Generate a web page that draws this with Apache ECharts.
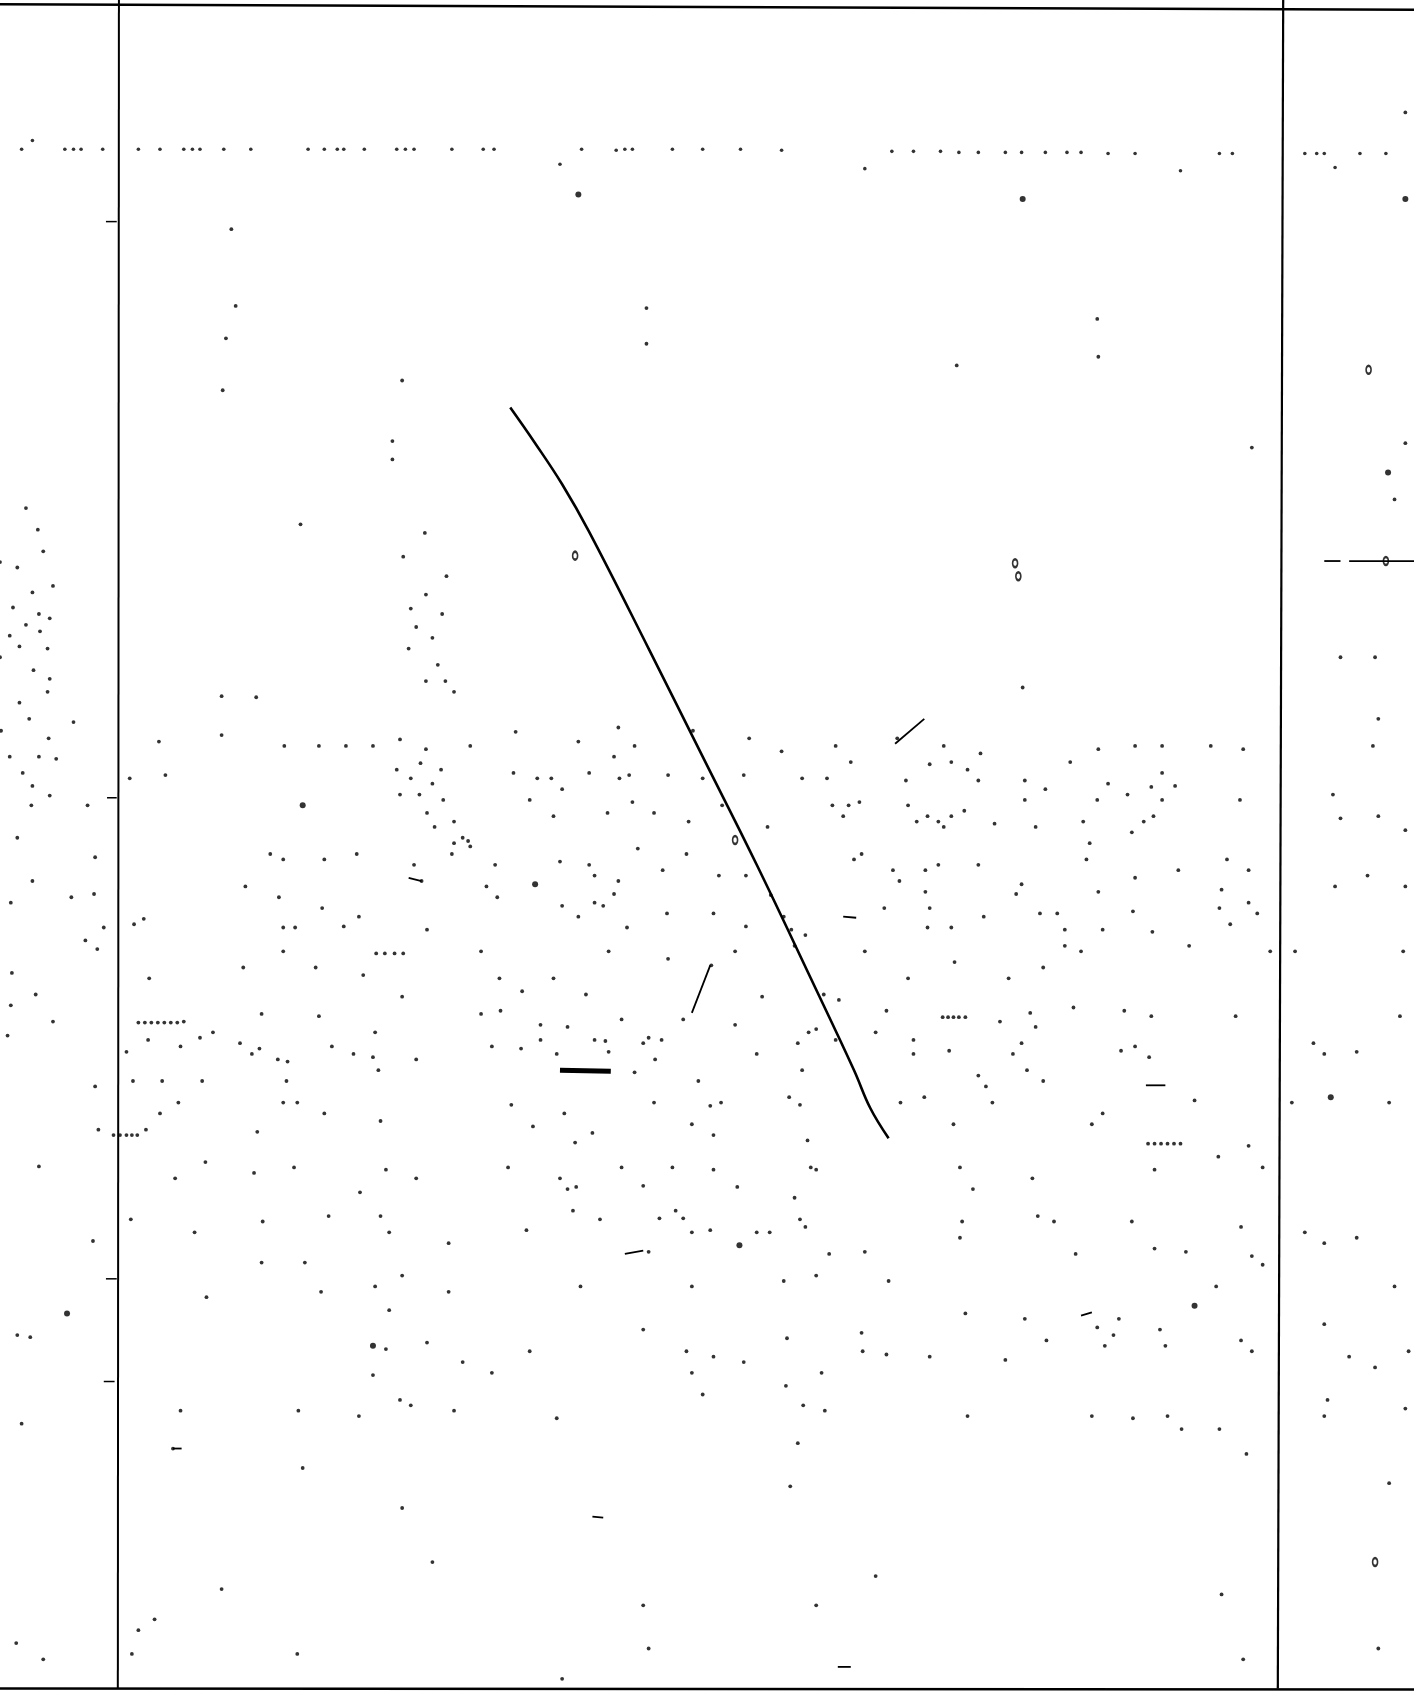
<!DOCTYPE html>
<html><head><meta charset="utf-8">
<script src="https://cdn.jsdelivr.net/npm/echarts@6/dist/echarts.min.js"></script>
<style>html,body{margin:0;padding:0;background:#fff}#c{width:1414px;height:1695px}</style>
</head><body><div id="c"></div>
<script>
// Values are in the chart's own units (x: 0..1308, y: 0..1568, y grows downward)
const frameTop = [[0,4],[1308,9]];
const frameBottom = [[0,1562],[1308,1563]];
const frameLeft = [[110,0],[109,1562]];
const frameRight = [[1187,0],[1182,1562]];
const curve = [[472,377],[495,410],[520,448],[545,492],[600,600],[650,700],[700,800],[750,905],[790,990],[805,1025],[822,1053]];
const rowDots = [[20,138],[60,138],[68,138],[75,138],[95,138],[128,138],[148,138],[170,138],[178,138],[185,138],[207,138],[232,138],[285,138],[300,138],[312,138],[318,138],[337,138],[367,138],[375,138],[383,138],[418,138],[447,138],[457,138],[518,152],[538,138],[570,139],[578,138],[585,138],[622,138],[650,138],[685,138],[723,139],[800,156],[825,140],[845,140],[870,140],[887,141],[905,141],[930,141],[945,141],[967,141],[987,141],[1000,141],[1025,142],[1050,142],[1092,158],[1128,142],[1140,142],[1207,142],[1218,142],[1225,142],[1235,155],[1258,142],[1282,142],[30,130]];
const dots = [[214,212],[218,283],[598,285],[598,318],[209,313],[1015,295],[1016,330],[885,338],[372,352],[206,361],[1158,414],[363,408],[363,425],[278,485],[393,493],[373,515],[413,533],[394,550],[380,563],[409,568],[385,580],[400,590],[378,600],[394,630],[412,630],[405,615],[420,640],[205,644],[237,645],[205,680],[1275,665],[946,636],[1272,608],[1240,608],[1300,410],[1290,462],[1300,104],
[24,470],[35,490],[40,510],[0,520],[16,525],[49,542],[30,548],[12,562],[36,568],[46,572],[24,578],[37,584],[9,588],[18,598],[44,600],[0,608],[31,620],[46,628],[44,640],[18,650],[27,665],[68,668],[1,676],[45,683],[9,700],[36,700],[52,702],[21,715],[30,727],[46,736],[81,745],[29,745],[16,775],[88,793],[30,815],[87,827],[66,830],[10,835],[96,858],[79,870],[90,878],[11,900],[33,920],[10,930],[49,945],[7,958],[88,1005],[91,1045],[36,1079],[86,1148],[16,1235],[20,1317],[128,1508],[40,1535],[15,1520],
[147,686],[263,690],[295,690],[320,690],[345,690],[370,684],[394,693],[435,690],[477,677],[535,686],[572,673],[587,690],[641,676],[693,683],[723,695],[773,690],[830,683],[873,690],[907,697],[1016,693],[1050,690],[1075,690],[1120,690],[1150,693],[1270,690],
[120,720],[153,717],[367,712],[389,706],[380,720],[408,712],[475,715],[497,720],[510,720],[520,730],[545,715],[568,700],[573,720],[582,717],[618,717],[650,720],[688,717],[742,720],[765,720],[787,705],[838,722],[860,707],[880,705],[895,712],[905,722],[948,722],[967,730],[990,705],[1025,725],[1043,735],[1065,728],[1075,715],[1087,727],[1147,740],[1233,735],
[370,735],[388,735],[400,725],[410,740],[395,752],[402,765],[420,760],[428,775],[433,778],[420,780],[490,740],[512,755],[562,752],[585,742],[605,752],[637,760],[668,745],[710,765],[770,745],[780,755],[785,745],[795,742],[840,745],[848,760],[858,755],[868,760],[880,755],[873,765],[892,750],[920,762],[948,740],[958,765],[1002,760],[1015,740],[1047,770],[1058,760],[1067,755],[1075,740],[1240,757],[1300,768],[1275,755],
[250,790],[262,795],[300,795],[330,790],[383,800],[390,815],[418,790],[435,783],[458,800],[450,820],[518,797],[545,800],[550,810],[568,827],[572,815],[590,785],[613,805],[635,790],[665,810],[690,810],[713,828],[790,795],[797,790],[826,805],[832,815],[856,805],[868,800],[905,800],[945,818],[1005,795],[1008,780],[1050,812],[1090,805],[1135,795],[1155,805],[1300,820],[1235,820],[1265,810],
[124,855],[133,850],[227,820],[258,830],[262,858],[273,858],[298,840],[318,857],[332,848],[395,860],[460,830],[520,838],[535,848],[550,835],[558,838],[580,858],[617,845],[660,845],[690,857],[725,848],[732,860],[745,865],[818,840],[856,825],[860,840],[858,858],[880,858],[910,848],[940,827],[962,845],[978,845],[985,860],[1016,825],[1020,860],[1048,843],[1066,862],[1128,840],[1138,855],[1155,835],[1163,845],[1130,823],
[138,905],[225,895],[262,880],[292,895],[348,882],[356,882],[365,882],[373,882],[336,902],[445,880],[462,905],[512,905],[563,880],[618,887],[658,893],[680,880],[735,875],[800,880],[840,905],[883,890],[933,905],[965,895],[985,875],[1000,880],[1100,875],[1175,880],[1298,880],[1198,880],
[128,946],[134,946],[140,946],[146,946],[152,946],[158,946],[164,946],[170,945],[197,955],[242,938],[295,940],[347,955],[372,922],[445,938],[463,935],[483,917],[500,948],[525,950],[542,920],[560,963],[575,943],[600,960],[632,943],[680,948],[705,922],[748,955],[762,920],[776,925],[820,935],[845,962],[872,941],[877,941],[882,941],[887,941],[893,941],[925,945],[953,937],[958,950],[993,932],[1040,935],[1065,940],[1143,940],[1295,940],[1215,965],[1225,975],[1255,973],
[117,973],[137,962],[167,968],[185,960],[222,965],[240,970],[257,980],[266,982],[233,975],[265,1000],[150,1000],[123,1000],[165,1020],[187,1000],[307,968],[327,975],[345,978],[350,990],[385,980],[455,968],[482,970],[500,962],[515,975],[550,962],[563,973],[587,992],[595,965],[606,980],[612,962],[646,1000],[700,975],[738,965],[742,990],[755,952],[773,962],[810,955],[845,975],[878,972],[905,995],[912,1005],[918,1020],[937,975],[945,965],[950,990],[965,1000],[1037,972],[1050,968],[1063,978],[1195,1020],[1285,1020],
[105,1050],[111,1050],[117,1050],[122,1050],[127,1050],[135,1045],[148,1030],[238,1047],[262,1020],[275,1020],[300,1030],[352,1037],[473,1022],[493,1042],[522,1030],[548,1048],[605,1020],[640,1040],[657,1023],[667,1020],[660,1050],[730,1015],[740,1022],[833,1020],[855,1015],[882,1040],[1010,1040],[1020,1030],[1105,1018],[1062,1058],[1068,1058],[1074,1058],[1080,1058],[1086,1058],[1092,1058],[1155,1060],
[162,1090],[190,1075],[235,1085],[272,1080],[333,1103],[357,1082],[385,1090],[470,1080],[518,1090],[525,1100],[533,1098],[532,1057],[575,1080],[595,1097],[622,1080],[660,1082],[682,1098],[735,1108],[747,1055],[750,1080],[755,1082],[888,1080],[900,1100],[955,1090],[1068,1082],[1127,1070],[1168,1080],
[121,1128],[180,1140],[243,1130],[304,1125],[352,1125],[360,1140],[415,1150],[487,1138],[530,1120],[555,1128],[600,1158],[610,1127],[625,1120],[632,1127],[640,1140],[657,1138],[700,1140],[712,1140],[740,1128],[745,1135],[767,1160],[800,1158],[890,1130],[888,1145],[960,1125],[975,1130],[995,1160],[1047,1130],[1068,1155],[1097,1158],[1148,1135],[1158,1162],[1168,1170],[1207,1140],[1225,1150],[1255,1145],
[191,1200],[242,1168],[282,1168],[297,1195],[347,1190],[360,1212],[372,1180],[415,1195],[537,1190],[640,1190],[725,1185],[755,1180],[822,1185],[893,1215],[948,1220],[1015,1228],[1030,1235],[1035,1220],[1073,1230],[1125,1190],[1148,1240],[1225,1225],[1290,1190],[28,1237],
[357,1248],[395,1242],[428,1260],[490,1250],[595,1230],[635,1250],[660,1255],[688,1260],[728,1238],[797,1233],[798,1250],[820,1253],[860,1255],[930,1258],[968,1240],[1022,1245],[1078,1245],[1158,1250],[1248,1255],[1272,1265],[1303,1250],[345,1272],[455,1270],[640,1270],[727,1282],[760,1270],
[167,1305],[276,1305],[370,1295],[380,1300],[332,1310],[420,1305],[160,1340],[515,1312],[650,1290],[743,1300],[763,1305],[895,1310],[1010,1310],[1048,1312],[1080,1310],[1093,1322],[1128,1322],[1225,1310],[1228,1295],[738,1335],[1153,1345],[1300,1303],[1285,1372],
[280,1358],[372,1395],[731,1375],[400,1445],[205,1470],[595,1485],[143,1498],[755,1485],[810,1458],[1130,1475],[122,1530],[275,1530],[600,1525],[1150,1535],[1275,1525],[520,1553]];
const bigDots = [[535,180],[946,184],[280,745],[495,818],[684,1152],[1105,1208],[1231,1015],[62,1215],[345,1245],[1284,437],[1300,184]];
const rings = [[532,514],[939,521],[942,533],[680,777],[1266,342],[1272,1445],[1282,519]];
const ticks = [[[98,205],[108,205]],[[98,1183],[108,1183]],[[96,1278],[106,1278]],[[99,738],[108,738]]];
const dashes = [[[828,688],[855,665]],[[640,937],[657,893]],[[378,812],[390,815]],[[780,848],[792,849]],[[578,1160],[595,1157]],[[1060,1004],[1078,1004]],[[548,1403],[558,1404]],[[775,1542],[787,1542]],[[1000,1217],[1010,1214]],[[1225,519],[1240,519]],[[1248,519],[1308,519]],[[160,1340],[168,1340]]];
const bars = [[[518,990],[565,991]]];

const lineSeries = (data, w, type) => ({type:'line', data, symbol:'none', silent:true, animation:false,
  lineStyle:{color:'#000', width:w, type:type||'solid'}, z:3});
const series = [
  lineSeries(frameTop, 2.5), lineSeries(frameBottom, 2.5), lineSeries(frameLeft, 2), lineSeries(frameRight, 2.2),
  Object.assign(lineSeries(curve, 2.6), {smooth:0.4}),
  {type:'scatter', data:rowDots, symbolSize:3.6, itemStyle:{color:'#000'}, animation:false, silent:true},
  {type:'scatter', data:dots, symbolSize:3.8, itemStyle:{color:'#000'}, animation:false, silent:true},
  {type:'scatter', data:bigDots, symbolSize:6, itemStyle:{color:'#000'}, animation:false, silent:true},
  {type:'scatter', data:rings, symbol:'emptyCircle', symbolSize:[5,8], itemStyle:{color:'#000', borderColor:'#000', borderWidth:1.6}, animation:false, silent:true}
];
ticks.forEach(t => series.push(lineSeries(t, 1.5)));
dashes.forEach(t => series.push(lineSeries(t, 1.8)));
bars.forEach(t => series.push(lineSeries(t, 5)));

const chart = echarts.init(document.getElementById('c'));
chart.setOption({
  animation:false,
  backgroundColor:'#fff',
  grid:{left:0,right:0,top:0,bottom:0},
  xAxis:{type:'value', min:0, max:1308, show:false},
  yAxis:{type:'value', min:0, max:1568, inverse:true, show:false},
  series
});
</script></body></html>
